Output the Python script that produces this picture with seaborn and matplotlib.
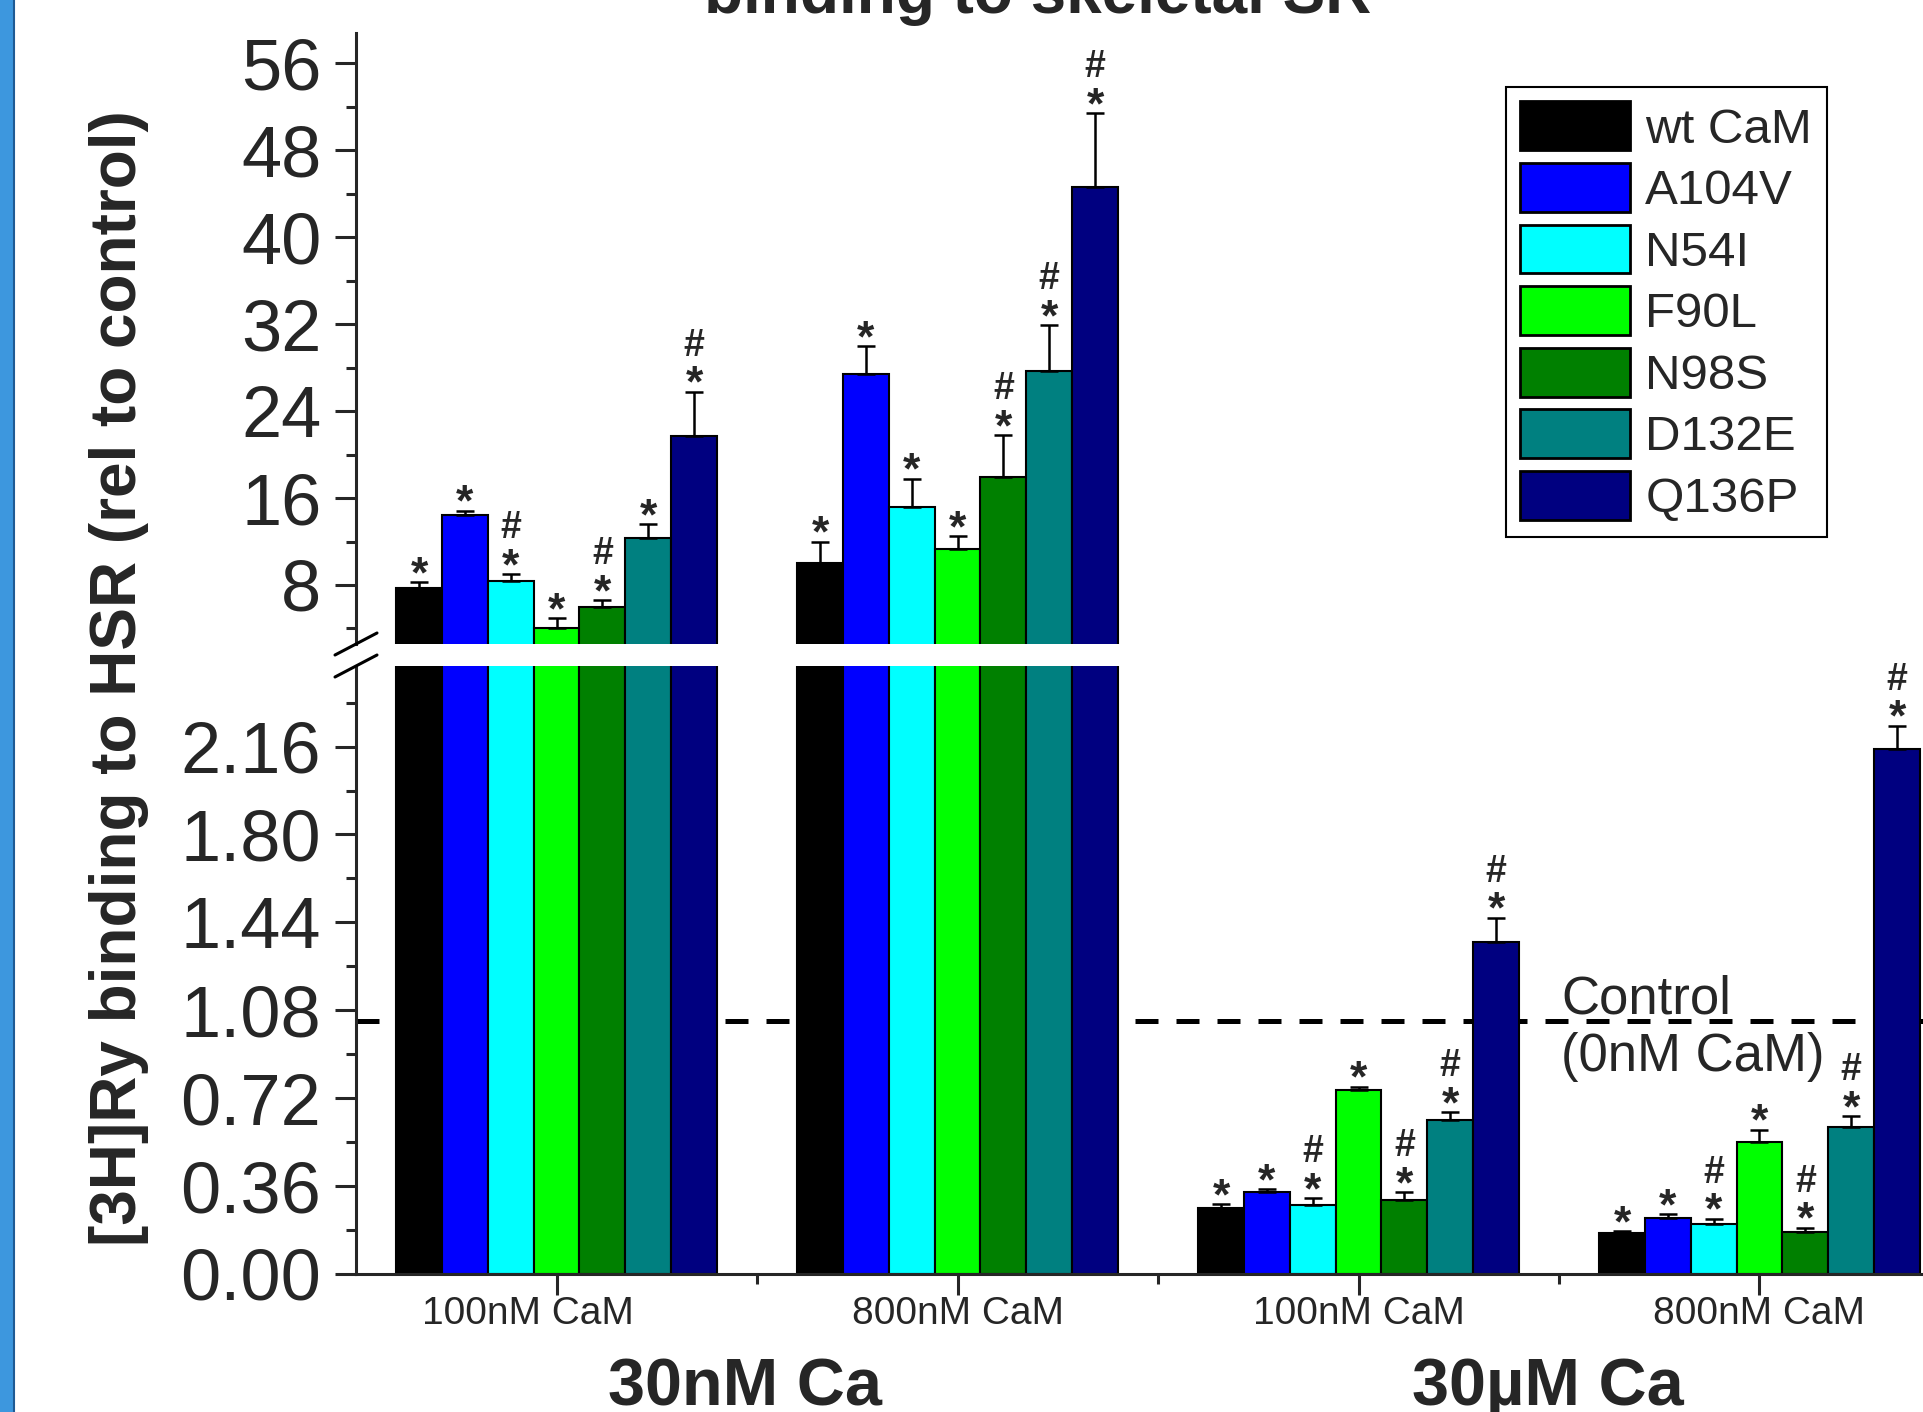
import numpy as np
import pandas as pd
import matplotlib
matplotlib.use("Agg")
import matplotlib.pyplot as plt
import seaborn as sns
from matplotlib.lines import Line2D
from matplotlib.patches import Rectangle, Patch
from matplotlib.container import BarContainer
from matplotlib.ticker import FixedLocator, FormatStrFormatter
import matplotlib.transforms as mtransforms

# ---------------- data ----------------
variants = ["wt CaM", "A104V", "N54I", "F90L", "N98S", "D132E", "Q136P"]
colors = ["#000000", "#0000FF", "#00FFFF", "#00FF00", "#008000", "#008080", "#000080"]
ca_levels = ["30nM Ca", "30nM Ca", "30µM Ca", "30µM Ca"]
cam_levels = ["100nM CaM", "800nM CaM", "100nM CaM", "800nM CaM"]

vals_30n_100 = [7.75, 14.45, 8.4, 4.05, 5.93, 12.3, 21.7]
vals_30n_800 = [10.0, 27.4, 15.2, 11.3, 17.9, 27.7, 44.6]
vals_30u_100 = [0.272, 0.336, 0.284, 0.752, 0.305, 0.632, 1.36]
vals_30u_800 = [0.167, 0.228, 0.205, 0.540, 0.170, 0.600, 2.15]

err_30n_100 = [0.5, 0.4, 0.6, 0.9, 0.65, 1.3, 4.1]
err_30n_800 = [2.0, 2.6, 2.6, 1.2, 3.9, 4.2, 6.8]
err_30u_100 = [0.015, 0.011, 0.027, 0.015, 0.031, 0.031, 0.10]
err_30u_800 = [0.009, 0.017, 0.022, 0.051, 0.020, 0.047, 0.096]

marks_30n_100 = ["*", "*", "#*", "*", "#*", "*", "#*"]
marks_30n_800 = ["*", "*", "*", "*", "#*", "#*", "#*"]
marks_30u_100 = ["*", "*", "#*", "*", "#*", "#*", "#*"]
marks_30u_800 = ["*", "*", "#*", "*", "#*", "#*", "#*"]

control_level = 1.037

top_yticks = [8, 16, 24, 32, 40, 48, 56]
bot_yticks = [0.00, 0.36, 0.72, 1.08, 1.44, 1.80, 2.16]

all_vals = [vals_30n_100, vals_30n_800, vals_30u_100, vals_30u_800]
all_errs = [err_30n_100, err_30n_800, err_30u_100, err_30u_800]
all_marks = [marks_30n_100, marks_30n_800, marks_30u_100, marks_30u_800]
conds = [f"{ca} | {cam}" for ca, cam in zip(ca_levels, cam_levels)]

rows = []
for ci, cond in enumerate(conds):
    for hi, v in enumerate(variants):
        rows.append({"condition": cond, "variant": v, "value": all_vals[ci][hi]})
df = pd.DataFrame(rows)

# ---------------- style ----------------
sns.set_style("ticks")
plt.rcParams["font.family"] = ["Liberation Sans", "DejaVu Sans"]

W_PX, H_PX = 1924, 1412
fig = plt.figure(figsize=(W_PX / 100, H_PX / 100), dpi=100)


def fx(x):
    return x / W_PX


def fy(y):
    return 1 - y / H_PX


L = fx(356)
AW = 1604 / W_PX
ax_top = fig.add_axes([L, fy(644), AW, (644 - 33) / H_PX])
ax_bot = fig.add_axes([L, fy(1274), AW, (1274 - 666) / H_PX])

for ax in (ax_top, ax_bot):
    sns.barplot(data=df, x="condition", y="value", hue="variant", order=conds,
                hue_order=variants, palette=colors, width=0.8, saturation=1,
                edgecolor="black", linewidth=1.5, errorbar=None, legend=False, ax=ax)
    ax.set_xlim(-0.5, 3.5)
    ax.set_xlabel("")
    ax.set_ylabel("")
    for s in ("top", "right"):
        ax.spines[s].set_visible(False)
    for s in ("left", "bottom"):
        ax.spines[s].set_linewidth(2.2)

ax_top.set_ylim(2.57, 58.8)
ax_bot.set_ylim(0, 2.49)

ax_bot.axhline(control_level, color="black", lw=3.6, ls=(0, (4.6, 3.6)), zorder=0.5)

# error bars and significance marks
bw = 0.8 / len(variants)
for ax, groups in ((ax_top, (0, 1)), (ax_bot, (2, 3))):
    bars = [p for c in list(ax.containers) if isinstance(c, BarContainer) for p in c]
    for bar in bars:
        xc = bar.get_x() + bar.get_width() / 2
        ci = int(round(xc))
        hi = int(round((xc - ci + 0.4) / bw - 0.5))
        h = bar.get_height()
        e = all_errs[ci][hi]
        ax.errorbar(xc, h, yerr=[[0], [e]], fmt="none", ecolor="black",
                    elinewidth=1.8, capsize=6.5, capthick=1.8, zorder=3)
        if ci in groups:
            m = all_marks[ci][hi]
            ax.annotate("*", xy=(xc, h + e), xytext=(0, -5), textcoords="offset pixels",
                        ha="center", va="baseline", fontsize=32, fontweight="bold",
                        annotation_clip=False)
            if "#" in m:
                ax.annotate("#", xy=(xc, h + e), xytext=(0, 36), textcoords="offset pixels",
                            ha="center", va="baseline", fontsize=27, fontweight="bold",
                            annotation_clip=False)

# y ticks
ax_top.yaxis.set_major_locator(FixedLocator(top_yticks))
ax_top.yaxis.set_minor_locator(FixedLocator([t - 4 for t in top_yticks] + [60]))
ax_top.set_yticklabels([str(t) for t in top_yticks])
ax_bot.yaxis.set_major_locator(FixedLocator(bot_yticks))
ax_bot.yaxis.set_minor_locator(FixedLocator([t + 0.18 for t in bot_yticks]))
ax_bot.yaxis.set_major_formatter(FormatStrFormatter("%.2f"))
for ax in (ax_top, ax_bot):
    ax.tick_params(axis="y", which="major", direction="out", length=15, width=2.2,
                   labelsize=52, pad=10)
    ax.tick_params(axis="y", which="minor", direction="out", length=7, width=2.2)

ax_top.spines["bottom"].set_visible(False)
ax_top.tick_params(axis="x", which="both", bottom=False, labelbottom=False)

ax_bot.set_xticks(range(4))
ax_bot.set_xticklabels(cam_levels)
ax_bot.xaxis.set_minor_locator(FixedLocator([0.5, 1.5, 2.5]))
ax_bot.tick_params(axis="x", which="major", direction="out", length=15, width=2.2,
                   labelsize=28, pad=1)
ax_bot.tick_params(axis="x", which="minor", direction="out", length=7, width=2.2)
lab0 = ax_bot.get_xticklabels()[0]
lab0.set_transform(lab0.get_transform() + mtransforms.ScaledTranslation(-0.29, 0, fig.dpi_scale_trans))

# group labels
fig.text(fx(745), fy(1405), ca_levels[0], ha="center", va="baseline", fontsize=48, fontweight="bold")
fig.text(fx(1548), fy(1405), ca_levels[2], ha="center", va="baseline", fontsize=48, fontweight="bold")

# y label
fig.text(fx(119), fy(678), "[3H]Ry binding to HSR (rel to control)", rotation=90,
         ha="center", va="center", fontsize=46, fontweight="bold")

# title (top cut off in the reference)
fig.text(fx(1038), fy(13), "binding to skeletal SR", ha="center", va="baseline",
         fontsize=46, fontweight="bold")

# control text
fig.text(fx(1561), fy(1013), "Control", ha="left", va="baseline", fontsize=38)
fig.text(fx(1561), fy(1071), "(0nM CaM)", ha="left", va="baseline", fontsize=38)

# axis break marks
for (x0, y0, x1, y1) in ((335, 655, 377, 633), (335, 677, 377, 655)):
    fig.add_artist(Line2D([fx(x0), fx(x1)], [fy(y0), fy(y1)], color="black", lw=2.2,
                          transform=fig.transFigure))

# legend
handles = [Patch(facecolor=c, edgecolor="black", linewidth=2) for c in colors]
leg = fig.legend(handles, variants, loc="upper left", bbox_to_anchor=(fx(1505.7), fy(86.7)),
                 bbox_transform=fig.transFigure, fontsize=35.5, handlelength=2.23,
                 handleheight=1.15, handletextpad=0.3, labelspacing=0.21, borderpad=0.3,
                 borderaxespad=0, frameon=True, fancybox=False, edgecolor="black",
                 framealpha=1)
leg.get_frame().set_linewidth(1.5)

# left blue strip
fig.add_artist(Rectangle((0, 0), fx(14), 1, transform=fig.transFigure,
                         facecolor="#3d97de", edgecolor="none"))
fig.add_artist(Line2D([fx(14), fx(14)], [0, 1], color="#1f5a94", lw=1.5,
                      transform=fig.transFigure))

fig.savefig("out.png", dpi=100)
